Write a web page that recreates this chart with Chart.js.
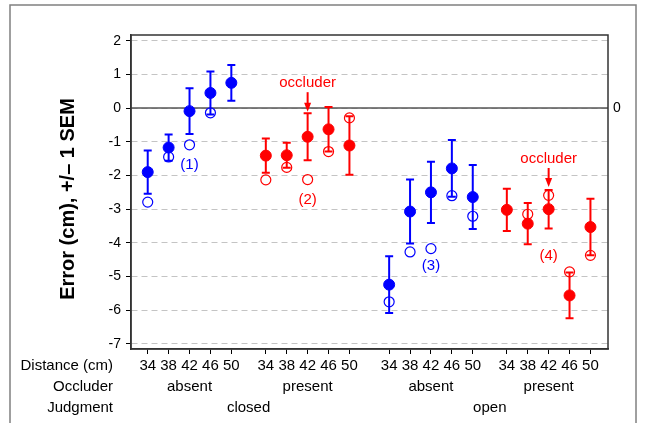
<!DOCTYPE html>
<html>
<head>
<meta charset="utf-8">
<script src="https://cdn.jsdelivr.net/npm/chart.js@4"></script>
<style>
  body { margin: 0; background: #fff; }
  #wrap { width: 646px; height: 423px; position: relative; }
</style>
</head>
<body>
<div id="wrap"><canvas id="errChart"></canvas></div>
<script>
// data
const distances = [34, 38, 42, 46, 50];
const occluderLabels = ['absent', 'present', 'absent', 'present'];
const judgmentLabels = ['closed', 'open'];
const yTicks = [-7, -6, -5, -4, -3, -2, -1, 0, 1, 2];

const meanClosedAbsent = [-1.90, -1.17, -0.09, 0.45, 0.75];
const semClosedAbsent = [0.64, 0.39, 0.68, 0.64, 0.53];
const openClosedAbsent = [-2.79, -1.45, -1.09, -0.14, null];

const meanClosedPresent = [-1.41, -1.40, -0.85, -0.63, -1.11];
const semClosedPresent = [0.51, 0.37, 0.70, 0.66, 0.87];
const openClosedPresent = [-2.13, -1.76, -2.12, -1.29, -0.29];

const meanOpenAbsent = [-5.24, -3.07, -2.50, -1.79, -2.64];
const semOpenAbsent = [0.84, 0.95, 0.91, 0.84, 0.95];
const openOpenAbsent = [-5.75, -4.27, -4.17, -2.60, -3.21];

const meanOpenPresent = [-3.02, -3.43, -3.00, -5.56, -3.53];
const semOpenPresent = [0.63, 0.61, 0.57, 0.68, 0.84];
const openOpenPresent = [null, -3.15, -2.59, -4.86, -4.37];

// layout: where each group of 5 starts on the x axis (slot units)
const groupStart = [0, 5.65, 11.55, 17.18];
const groupColor = ['#0000ff', '#ff0000', '#0000ff', '#ff0000'];
const groups = [
  { mean: meanClosedAbsent, sem: semClosedAbsent, open: openClosedAbsent },
  { mean: meanClosedPresent, sem: semClosedPresent, open: openClosedPresent },
  { mean: meanOpenAbsent, sem: semOpenAbsent, open: openOpenAbsent },
  { mean: meanOpenPresent, sem: semOpenPresent, open: openOpenPresent }
];

// annotations (group, slot, y in data units)
const numberNotes = [
  { text: '(1)', g: 0, y: -1.69 },
  { text: '(2)', g: 1, y: -2.73 },
  { text: '(3)', g: 2, y: -4.69 },
  { text: '(4)', g: 3, y: -4.39 }
];
const occluderNotes = [
  { g: 1, textY: 0.74, tipY: -0.11 },
  { g: 3, textY: -1.51, tipY: -2.34 }
];

const FONT = "'Liberation Sans', Arial, sans-serif";

const datasets = [];
groups.forEach((grp, g) => {
  datasets.push({
    label: 'mean ' + g,
    data: grp.mean.map((v, i) => ({ x: groupStart[g] + i, y: v })),
    pointRadius: 5.5,
    pointBackgroundColor: groupColor[g],
    pointBorderColor: groupColor[g],
    pointBorderWidth: 1,
    showLine: false,
    order: 1
  });
  datasets.push({
    label: 'open ' + g,
    data: grp.open.map((v, i) => ({ x: groupStart[g] + i, y: v })),
    pointRadius: 5,
    pointBackgroundColor: 'rgba(0,0,0,0)',
    pointBorderColor: groupColor[g],
    pointBorderWidth: 1.2,
    showLine: false,
    order: 2
  });
});

const extras = {
  id: 'extras',
  beforeDatasetsDraw(chart) {
    const { ctx, scales: { x, y }, chartArea: a } = chart;
    ctx.save();
    // zero line
    ctx.strokeStyle = '#555';
    ctx.lineWidth = 1.5;
    ctx.beginPath();
    ctx.moveTo(a.left, y.getPixelForValue(0));
    ctx.lineTo(a.right, y.getPixelForValue(0));
    ctx.stroke();
    // error bars
    groups.forEach((grp, g) => {
      ctx.strokeStyle = groupColor[g];
      ctx.lineWidth = 2;
      grp.mean.forEach((m, i) => {
        const px = x.getPixelForValue(groupStart[g] + i);
        const hi = y.getPixelForValue(m + grp.sem[i]);
        const lo = y.getPixelForValue(m - grp.sem[i]);
        ctx.beginPath();
        ctx.moveTo(px, hi); ctx.lineTo(px, lo);
        ctx.moveTo(px - 4, hi); ctx.lineTo(px + 4, hi);
        ctx.moveTo(px - 4, lo); ctx.lineTo(px + 4, lo);
        ctx.stroke();
      });
    });
    ctx.restore();
  },
  afterDraw(chart) {
    const { ctx, scales: { x, y }, chartArea: a } = chart;
    ctx.save();
    // plot box
    ctx.strokeStyle = '#333';
    ctx.lineWidth = 1.5;
    ctx.strokeRect(a.left, a.top, a.right - a.left, a.bottom - a.top);
    // outer frame
    ctx.strokeStyle = '#808080';
    ctx.lineWidth = 1.5;
    ctx.strokeRect(10, 5, 626, 430);

    ctx.font = '15px ' + FONT;
    ctx.textBaseline = 'middle';
    // number notes
    ctx.textAlign = 'center';
    numberNotes.forEach(n => {
      ctx.fillStyle = groupColor[n.g];
      ctx.fillText(n.text, x.getPixelForValue(groupStart[n.g] + 2), y.getPixelForValue(n.y));
    });
    // occluder arrows
    occluderNotes.forEach(n => {
      const px = x.getPixelForValue(groupStart[n.g] + 2);
      const ty = y.getPixelForValue(n.textY);
      const tip = y.getPixelForValue(n.tipY);
      ctx.fillStyle = '#ff0000';
      ctx.strokeStyle = '#ff0000';
      ctx.fillText('occluder', px, ty);
      ctx.lineWidth = 2;
      ctx.beginPath();
      ctx.moveTo(px, ty + 9); ctx.lineTo(px, tip - 6);
      ctx.stroke();
      ctx.beginPath();
      ctx.moveTo(px - 3.5, tip - 9); ctx.lineTo(px + 3.5, tip - 9); ctx.lineTo(px, tip);
      ctx.closePath();
      ctx.fill();
    });
    // right zero label
    ctx.fillStyle = '#000';
    ctx.font = '14px ' + FONT;
    ctx.textAlign = 'left';
    ctx.fillText('0', a.right + 5, y.getPixelForValue(0));
    // row labels
    ctx.font = '15px ' + FONT;
    ctx.textAlign = 'right';
    ctx.fillText('Distance (cm)', 113, 366);
    ctx.fillText('Occluder', 113, 387);
    ctx.fillText('Judgment', 113, 408);
    ctx.textAlign = 'center';
    occluderLabels.forEach((t, g) => {
      ctx.fillText(t, x.getPixelForValue(groupStart[g] + 2), 387);
    });
    judgmentLabels.forEach((t, j) => {
      const c = (x.getPixelForValue(groupStart[2 * j] + 2) + x.getPixelForValue(groupStart[2 * j + 1] + 2)) / 2;
      ctx.fillText(t, c, 408);
    });
    // y title
    ctx.translate(68, 199);
    ctx.rotate(-Math.PI / 2);
    ctx.font = 'bold 20px ' + FONT;
    ctx.fillText('Error (cm), +/\u2013 1 SEM', 0, 0);
    ctx.restore();
  }
};

new Chart(document.getElementById('errChart'), {
  type: 'scatter',
  data: { datasets: datasets },
  plugins: [extras],
  options: {
    responsive: true,
    maintainAspectRatio: false,
    animation: false,
    layout: { padding: { left: 0, top: 35, right: 38, bottom: 0 } },
    plugins: { legend: { display: false }, tooltip: { enabled: false } },
    scales: {
      x: {
        type: 'linear',
        min: -0.8,
        max: 22.02,
        afterBuildTicks: s => {
          const t = [];
          groupStart.forEach(g => distances.forEach((d, i) => t.push({ value: g + i })));
          s.ticks = t;
        },
        afterFit: s => { s.height = 74; },
        ticks: {
          autoSkip: false,
          maxRotation: 0,
          padding: 3,
          color: '#000',
          font: { size: 15, family: FONT },
          callback: (v, i) => distances[i % distances.length]
        },
        grid: { drawOnChartArea: false, drawTicks: true, tickLength: 5, tickColor: '#000', tickWidth: 1 },
        border: { display: true, color: '#333', width: 1.5 }
      },
      y: {
        min: -7.15,
        max: 2.17,
        afterBuildTicks: s => { s.ticks = yTicks.map(v => ({ value: v })); },
        afterFit: s => { s.width = 131; },
        ticks: {
          padding: 5,
          color: '#000',
          font: { size: 14, family: FONT }
        },
        grid: { color: '#c4c4c4', lineWidth: 1, drawTicks: true, tickLength: 5, tickColor: '#000', tickWidth: 1, tickBorderDash: [] },
        border: { display: true, color: '#333', width: 1.5, dash: [6, 4] }
      }
    }
  }
});
</script>
</body>
</html>
